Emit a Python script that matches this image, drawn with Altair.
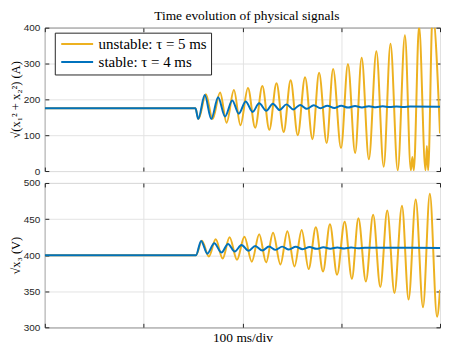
import altair as alt
import pandas as pd

# ---- data (time in ms) ----
t_unstable_top = [0, 152.5, 155.5, 163, 169.8, 177.4, 184, 191.4, 198, 205.6, 212.9, 220.2, 227.2,
                  234.5, 241.8, 248.8, 256, 263.4, 270.9, 277.6, 285.3, 291.8, 299.8, 306.8, 314.1,
                  320.7, 328, 335.6, 343, 349.9, 357.2, 364.5, 370.5, 372, 373.5, 378.8, 385.3,
                  386.7, 388, 392.5, 400]
v_unstable_top = [175, 175, 145, 214, 145, 219, 135, 226, 128, 232, 121, 237, 115,
                  245, 109, 253, 100, 262, 89, 274, 78, 285, 64, 299, 50,
                  316, 33, 334, 12, 355, 2, 379, 2, 39, 2, 405, 2,
                  70, 2, 440, 105]

t_stable_top = [0, 152.5, 155.2, 161.9, 168.5, 175.4, 182.4, 189.7, 196.3, 203.3, 210.3, 216.9,
                224.2, 230.8, 237.7, 244.6, 251.5, 258.4, 265.3, 272.2, 279, 286, 293, 300, 307,
                314, 321, 328, 335, 342, 349, 356, 363, 370, 400]
v_stable_top = [175, 175, 145, 212, 145, 206, 152, 197, 160, 194, 165, 189,
                 168, 188, 170, 186, 172, 184.5, 173.5, 183.5, 175, 182.5, 176, 182, 177,
                 181.5, 177.5, 181, 178, 180.5, 178.5, 180.2, 179, 180, 179.5]

t_unstable_bot = [0, 153, 159, 166, 173, 180, 187, 194.5, 202, 209.5, 217, 224, 231, 238.5,
                  245.5, 252.7, 260, 267, 274.3, 281.6, 288.6, 295.8, 303.5, 310.8, 317.4, 325,
                  332.3, 339.6, 346.6, 353.9, 361.5, 368.2, 375.4, 382.8, 389.7, 397, 400]
v_unstable_bot = [400, 400, 420, 398, 422, 395.3, 424.7, 393.5, 425.6, 391, 429, 390, 431, 387,
                  433, 384.3, 435, 380.7, 438.6, 377.4, 442.8, 372.8, 446.4, 367.3, 451, 363.6,
                  456, 355.9, 462, 347.6, 468.6, 338.4, 477, 327.8, 485, 314.6, 352]

t_stable_bot = [0, 153, 158.2, 164.5, 171.5, 178.8, 185.4, 192.3, 199, 206.3, 212.9, 220.2, 226.9,
                233.5, 240.3, 247, 254, 261, 268, 275, 282, 289, 296, 303, 310, 317, 324, 400]
v_stable_bot = [400, 400, 419.7, 402, 416.5, 403.6, 415.6, 405, 414, 406, 412.8, 406.4, 412,
                407.3, 411.8, 407.8, 411.5, 408.3, 411.2, 408.7, 410.9, 409, 410.7, 409.3, 410.5,
                409.6, 410.4, 410]

x_ticks = [0, 100, 200, 300, 400]
y_ticks_top = [0, 100, 200, 300, 400]
y_ticks_bot = [300, 350, 400, 450, 500]

LBL_U = "unstable: τ = 5 ms"
LBL_S = "stable: τ = 4 ms"
ORANGE = "#EDB120"
BLUE = "#0072BD"
DARK = "#262626"
GRID = "#e3e3e3"
SERIF = "Liberation Serif"
SANS = "Liberation Sans"

W = 397


def frame(t, v, s):
    return pd.DataFrame({"t": t, "v": v, "s": s})


color_scale = alt.Scale(domain=[LBL_U, LBL_S], range=[ORANGE, BLUE])


def panel(t_u, v_u, t_s, v_s, ydom, yticks, ytitle, h, legend, xtitle):
    xs = alt.Scale(domain=[0, 400], nice=False, zero=False)
    ys = alt.Scale(domain=ydom, nice=False, zero=False)
    x_bottom = alt.Axis(orient="bottom", values=x_ticks, labels=False, grid=True, gridColor=GRID,
                        domain=False, tickSize=4, offset=-4, tickColor=DARK, minExtent=0,
                        title=xtitle if xtitle else None, titleFont=SERIF, titleFontSize=13.5,
                        titleFontWeight="normal", titleColor="black", titlePadding=3)
    x_top = alt.Axis(orient="top", values=x_ticks, labels=False, grid=False, domain=False,
                     tickSize=4, offset=-4, tickColor=DARK, title=None, minExtent=0)
    y_left = alt.Axis(orient="left", values=yticks, grid=True, gridColor=GRID, domain=False,
                      tickSize=4, offset=-4, tickColor=DARK, labelFont=SANS, labelFontSize=10,
                      labelColor=DARK, labelPadding=5, title=ytitle, titleFont=SERIF,
                      titleFontSize=12.5, titleFontWeight="normal", titleColor="black",
                      titlePadding=1, minExtent=0)
    y_right = alt.Axis(orient="right", values=yticks, labels=False, grid=False, domain=False,
                       tickSize=4, offset=-4, tickColor=DARK, title=None, minExtent=0)
    lu = alt.Chart(frame(t_u, v_u, LBL_U)).mark_line(
        interpolate="monotone", strokeWidth=2, clip=True).encode(
        x=alt.X("t:Q", scale=xs, axis=x_bottom),
        y=alt.Y("v:Q", scale=ys, axis=y_left),
        color=alt.Color("s:N", scale=color_scale, legend=legend))
    ls = alt.Chart(frame(t_s, v_s, LBL_S)).mark_line(
        interpolate="monotone", strokeWidth=2, clip=True).encode(
        x=alt.X("t:Q", scale=xs, axis=x_top),
        y=alt.Y("v:Q", scale=ys, axis=y_right),
        color=alt.Color("s:N", scale=color_scale, legend=legend))
    return alt.layer(lu, ls).resolve_axis(x="independent", y="independent").properties(
        width=W, height=h)


legend_top = alt.Legend(title=None, orient="none", legendX=10, legendY=5,
                        symbolType="M-3,0H3", symbolSize=114, symbolStrokeWidth=2,
                        symbolOffset=11, labelOffset=14,
                        labelFont=SERIF, labelFontSize=15,
                        labelColor="black", fillColor="white", strokeColor=DARK, padding=4,
                        rowPadding=2, cornerRadius=0, labelLimit=300)

top = panel(t_unstable_top, v_unstable_top, t_stable_top, v_stable_top, [0, 400], y_ticks_top,
            "√(x₁² + x₂²) (A)", 144, legend_top, None)
bot = panel(t_unstable_bot, v_unstable_bot, t_stable_bot, v_stable_bot, [300, 500], y_ticks_bot,
            "√x₃ (V)", 145, None, "100 ms/div")

chart = alt.vconcat(top, bot, spacing=0).resolve_scale(color="independent").resolve_legend(
    color="independent").properties(
    title=alt.TitleParams("Time evolution of physical signals", font=SERIF, fontSize=13.5,
                          fontWeight="normal", color="black", anchor="middle", offset=0, dx=22),
    padding={"left": 0, "top": 0, "right": 0, "bottom": 0},
).configure_view(stroke=DARK, strokeWidth=1)

chart.save("out.html", embed_options={"renderer": "svg", "actions": False})
